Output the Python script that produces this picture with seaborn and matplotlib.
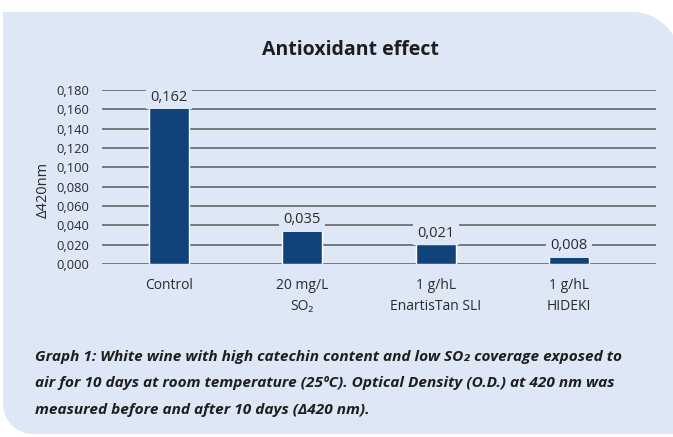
import matplotlib
matplotlib.use("Agg")
import numpy as np
import seaborn as sns
import matplotlib.pyplot as plt
from matplotlib.path import Path
from matplotlib.patches import PathPatch

categories = ["Control", "20 mg/L\nSO₂", "1 g/hL\nEnartisTan SLI", "1 g/hL\nHIDEKI"]
values = [0.162, 0.035, 0.021, 0.008]
value_labels = ["0,162", "0,035", "0,021", "0,008"]
yticks = [0.00, 0.02, 0.04, 0.06, 0.08, 0.10, 0.12, 0.14, 0.16, 0.18]
ytick_labels = ["0,000", "0,020", "0,040", "0,060", "0,080", "0,100", "0,120", "0,140", "0,160", "0,180"]

title = "Antioxidant effect"
ylabel = "Δ420nm"
caption = ["Graph 1: White wine with high catechin content and low SO₂ coverage exposed to",
           "air for 10 days at room temperature (25ºC). Optical Density (O.D.) at 420 nm was",
           "measured before and after 10 days (Δ420 nm)."]

panel_col = "#dde7f5"
bar_col = "#11427a"
grid_col = "#5a5a5a"
text_col = "#2b2b2b"

sns.set_theme(style="white")
plt.rcParams['font.family'] = ['Open Sans', 'DejaVu Sans']

W, H = 673, 437
fig = plt.figure(figsize=(W / 100, H / 100), dpi=100)
fig.patch.set_facecolor("white")

# background panel with two rounded corners, drawn in pixel coords
bg = fig.add_axes([0, 0, 1, 1], zorder=0)
bg.set_xlim(0, W)
bg.set_ylim(H, 0)
bg.axis("off")
k = 0.5523
r1, r2 = 48, 30
bot = 434
verts = [(3, 12), (680 - r1, 12),
         (680 - r1 + r1 * k, 12), (680, 12 + r1 - r1 * k), (680, 12 + r1),
         (680, bot), (3 + r2, bot),
         (3 + r2 - r2 * k, bot), (3, bot - r2 + r2 * k), (3, bot - r2),
         (3, 12)]
codes = [Path.MOVETO, Path.LINETO,
         Path.CURVE4, Path.CURVE4, Path.CURVE4,
         Path.LINETO, Path.LINETO,
         Path.CURVE4, Path.CURVE4, Path.CURVE4,
         Path.CLOSEPOLY]
bg.add_patch(PathPatch(Path(verts, codes), facecolor=panel_col, edgecolor="none"))

bg.text(350, 50, title, ha="center", va="center", fontsize=14, fontweight="bold", color="#1e1e1e")
for i, line in enumerate(caption):
    bg.text(35, 357 + i * 26.5, line, ha="left", va="center", fontsize=11.1, fontweight="bold",
            fontstyle="italic", color="#1e1e1e")
bg.text(43, 190, ylabel, ha="center", va="center", rotation=90, fontsize=10.5, color=text_col)

ax = fig.add_axes([102 / W, (H - 264) / H, 554 / W, 174 / H], zorder=1)
ax.set_facecolor("none")
sns.barplot(x=categories, y=values, color=bar_col, width=0.3, saturation=1, ax=ax, zorder=3)

ax.set_ylim(0, 0.18)
ax.set_xlim(-0.5, 3.65)
ax.set_yticks(yticks)
ax.set_yticklabels(ytick_labels)
ax.yaxis.grid(True, color=grid_col, linewidth=1.1)
ax.set_axisbelow(True)
for s in ax.spines.values():
    s.set_visible(False)
ax.tick_params(axis="y", length=0, pad=9, labelsize=9.3, labelcolor=text_col)
ax.tick_params(axis="x", length=0, pad=10, labelsize=10, labelcolor=text_col)
for t in ax.get_xticklabels():
    t.set_linespacing(1.55)
    t.set_verticalalignment("top")
ax.set_xlabel("")
ax.set_ylabel("")

ax.bar_label(ax.containers[0], labels=value_labels, padding=2, fontsize=10.5, color=text_col,
             bbox=dict(facecolor=panel_col, edgecolor="none", pad=3), zorder=4)

fig.savefig("out.png", dpi=100, facecolor="white")
